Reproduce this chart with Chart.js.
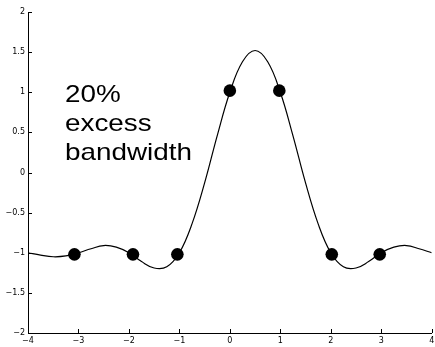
<!DOCTYPE html>
<html>
<head>
<meta charset="utf-8">
<script src="https://cdn.jsdelivr.net/npm/chart.js@4.4.1/dist/chart.umd.min.js"></script>
<style>
  html, body { margin: 0; padding: 0; background: #fff; overflow: hidden; }
  #wrap { width: 438px; height: 347px; }
</style>
</head>
<body>
<div id="wrap"><canvas id="c" width="438" height="347"></canvas></div>
<script>
// Pulse-train curve
const curveX = [-4, -3.75, -3.5, -3.25, -3, -2.75, -2.5, -2.25, -2, -1.75, -1.5, -1.25, -1, -0.75, -0.5, -0.25,
                0, 0.25, 0.5, 0.75, 1, 1.25, 1.5, 1.75, 2, 2.25, 2.5, 2.75, 3, 3.25, 3.5, 3.75, 4];
const curveY = [-1.0, -1.03, -1.05, -1.04, -1.0, -0.95, -0.91, -0.93, -1.0, -1.11, -1.19, -1.175, -1.0, -0.64, -0.13, 0.46,
                1.0, 1.38, 1.52, 1.38, 1.0, 0.46, -0.13, -0.64, -1.0, -1.175, -1.19, -1.11, -1.0, -0.93, -0.91, -0.95, -1.0];
// Sample points (dots)
const sampleX = [-3.08, -1.92, -1.04, 0, 0.98, 2.02, 2.97];
const sampleY = [-1.02, -1.02, -1.02, 1.02, 1.02, -1.02, -1.02];
// Axis ticks
const xTicks = [-4, -3, -2, -1, 0, 1, 2, 3, 4];
const yTicks = [-2, -1.5, -1, -0.5, 0, 0.5, 1, 1.5, 2];
const annotationLines = ['20%', 'excess', 'bandwidth'];

const fmt = v => (v < 0 ? '\u2212' + String(-v) : String(v));

const inwardTicks = {
  id: 'inwardTicks',
  afterDraw(chart) {
    const ctx = chart.ctx;
    const xs = chart.scales.x, ys = chart.scales.y;
    ctx.save();
    ctx.strokeStyle = '#000';
    ctx.lineWidth = 1;
    ctx.beginPath();
    xTicks.forEach(v => {
      const px = Math.round(xs.getPixelForValue(v)) + 0.5;
      ctx.moveTo(px, chart.chartArea.bottom);
      ctx.lineTo(px, chart.chartArea.bottom - 4);
    });
    yTicks.forEach(v => {
      const py = Math.round(ys.getPixelForValue(v)) + 0.5;
      ctx.moveTo(chart.chartArea.left, py);
      ctx.lineTo(chart.chartArea.left + 4, py);
    });
    ctx.stroke();
    ctx.restore();
  }
};

const annotation = {
  id: 'annotation',
  afterDraw(chart) {
    const ctx = chart.ctx;
    ctx.save();
    ctx.fillStyle = '#000';
    ctx.font = '24px "Liberation Sans", Arial, sans-serif';
    ctx.textBaseline = 'alphabetic';
    ctx.textAlign = 'left';
    const baselines = [102, 131, 160];
    annotationLines.forEach((t, i) => {
      ctx.save();
      ctx.translate(65, baselines[i]);
      ctx.scale(1.16, 1);
      ctx.fillText(t, 0, 0);
      ctx.restore();
    });
    ctx.restore();
  }
};

new Chart(document.getElementById('c'), {
  type: 'scatter',
  data: {
    datasets: [
      {
        data: curveX.map((x, i) => ({ x, y: curveY[i] })),
        showLine: true,
        borderColor: '#000',
        borderWidth: 1.2,
        pointRadius: 0,
        tension: 0.4,
        fill: false,
        order: 2
      },
      {
        data: sampleX.map((x, i) => ({ x, y: sampleY[i] })),
        showLine: false,
        pointRadius: 6.3,
        pointBackgroundColor: '#000',
        pointBorderColor: '#000',
        pointBorderWidth: 0,
        order: 1
      }
    ]
  },
  options: {
    responsive: false,
    animation: false,
    devicePixelRatio: 1,
    layout: { padding: { top: 12, left: 0, right: 0, bottom: 0 } },
    plugins: { legend: { display: false }, tooltip: { enabled: false } },
    scales: {
      x: {
        type: 'linear', min: -4, max: 4,
        afterBuildTicks: s => { s.ticks = xTicks.map(v => ({ value: v })); },
        afterFit: s => { s.height = 14; },
        grid: { display: false, drawTicks: false },
        border: { display: true, color: '#000', width: 1 },
        ticks: { color: '#000', padding: 3, maxRotation: 0, autoSkip: false,
                 font: { family: '"DejaVu Sans", sans-serif', size: 8 }, callback: v => fmt(v) }
      },
      y: {
        type: 'linear', min: -2, max: 2,
        afterBuildTicks: s => { s.ticks = yTicks.map(v => ({ value: v })); },
        afterFit: s => { s.width = 28; },
        grid: { display: false, drawTicks: false },
        border: { display: true, color: '#000', width: 1 },
        ticks: { color: '#000', padding: 3, autoSkip: false,
                 font: { family: '"DejaVu Sans", sans-serif', size: 8 }, callback: v => fmt(v) }
      }
    }
  },
  plugins: [inwardTicks, annotation]
});
</script>
</body>
</html>
